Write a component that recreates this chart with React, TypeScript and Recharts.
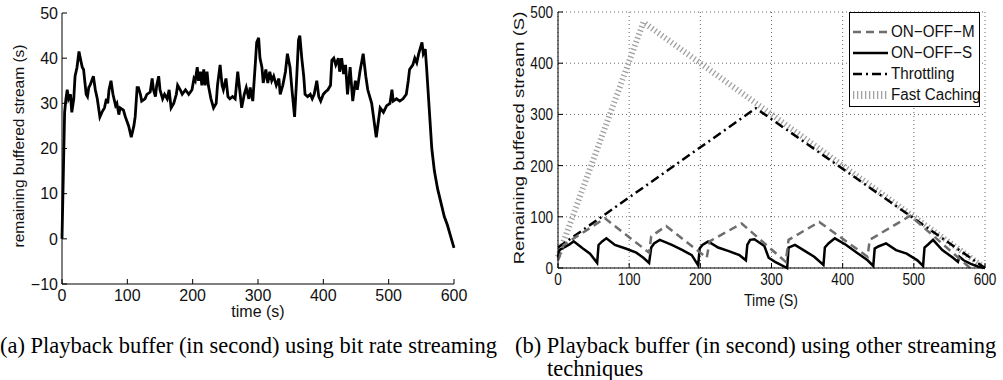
import React from 'react';
import { LineChart, Line, XAxis, YAxis, CartesianGrid, Legend } from 'recharts';

// (a) playback buffer with bit rate streaming
const bitrateTime = [
  0, 4, 6, 8, 10, 13, 15, 18, 20, 23, 26, 28, 31, 33, 37, 39, 41, 43, 48, 51, 54, 58, 61, 65, 68, 70, 72, 75, 78, 82,
  84, 87, 89, 94, 97, 102, 106, 110, 112, 115, 117, 120, 122, 127, 130, 135, 138, 140, 143, 145, 148, 150, 154, 157,
  161, 164, 167, 171, 175, 177, 181, 184, 189, 194, 199, 202, 204, 207, 209, 212, 214, 217, 219, 222, 224, 228, 232,
  236, 238, 242, 245, 247, 251, 254, 257, 261, 265, 269, 272, 275, 279, 282, 286, 288, 292, 296, 298, 301, 303, 306,
  308, 312, 315, 318, 321, 324, 328, 332, 334, 338, 342, 345, 349, 352, 356, 359, 362, 364, 367, 370, 372, 376, 380,
  383, 386, 390, 393, 396, 400, 403, 407, 411, 413, 416, 419, 423, 425, 428, 431, 434, 437, 441, 445, 449, 452, 456,
  461, 465, 468, 474, 481, 487, 492, 497, 502, 505, 507, 512, 517, 522, 527, 530, 532, 537, 540, 543, 546, 551, 553,
  556, 558, 562, 566, 570, 575, 580, 585, 590, 595, 600,
];
const bitrateBuffer = [
  0, 28, 31, 33, 31, 32, 28, 31, 36, 38, 41.5, 40, 38, 37.5, 32, 31.5, 33.5, 34, 36, 33, 31, 27, 28, 29, 31, 30, 33, 35,
  32, 29.5, 30, 27.5, 29, 28.5, 27, 25, 22.5, 25, 27, 33.5, 33.5, 32, 30.5, 31, 32, 32.5, 35.5, 33, 31.5, 34, 36, 33,
  31, 32, 31, 33, 29, 30, 32, 34, 33, 32, 33, 32, 33, 35.5, 35, 38, 35, 37, 34, 37.5, 34, 37, 34, 31, 29, 30, 34, 38.5,
  34, 33, 35.5, 31.5, 31, 31.5, 31, 37, 33, 29, 32, 33.5, 31, 33.5, 30.5, 39, 43.5, 44.5, 40, 38, 34.5, 37.5, 34.5, 37,
  35, 36, 34, 35.5, 32, 34, 37, 41, 38, 33, 27, 35, 44, 45, 40, 36, 32, 31.5, 32, 31, 32, 35, 31.5, 30.5, 32, 32.5, 33,
  34, 39.5, 40, 38.5, 40, 37, 40, 36.5, 38.5, 32, 38, 30.5, 35, 33, 37, 41, 36, 33, 30, 22.5, 29, 28, 29.5, 30, 33, 30.5,
  31, 30.5, 31, 32, 35, 37.5, 38.5, 40, 39, 41, 43.5, 41, 42, 38, 29, 20, 15, 11, 8, 5, 3, 0.5, -2,
];

// (b) playback buffer with the other streaming techniques
const onOffMTime = [0, 8, 66, 128, 131, 152, 209, 213, 258, 320, 324, 367, 435, 438, 495, 575, 579];
const onOffMBuffer = [15, 45, 97, 30, 62, 82, 20, 52, 87, 12, 55, 90, 22, 55, 102, 5, 0];

const onOffSTime = [
  0, 2, 8, 15, 22, 35, 45, 55, 57, 62, 68, 80, 95, 110, 120, 128, 131, 135, 143, 160, 175, 188, 197, 199, 203, 211, 225,
  240, 255, 264, 266, 270, 276, 290, 296, 305, 322, 324, 333, 345, 360, 373, 375, 380, 389, 405, 420, 435, 443, 445, 450,
  461, 475, 490, 505, 513, 515, 520, 527, 540, 555, 562, 564, 570, 580, 590, 600,
];
const onOffSBuffer = [
  20, 35, 40, 45, 52, 38, 28, 10, 45, 52, 58, 45, 38, 30, 20, 10, 40, 48, 55, 45, 35, 25, 5, 38, 45, 52, 40, 33, 25, 15,
  45, 55, 56, 43, 20, 12, 0, 40, 45, 35, 22, 6, 40, 48, 58, 45, 30, 15, 4, 38, 42, 48, 35, 28, 15, 4, 40, 46, 55, 35, 20,
  12, 22, 15, 8, 3, 0,
];

const throttlingTime = [0, 278, 600];
const throttlingBuffer = [40, 312, 0];

const fastCachingTime = [0, 120, 600];
const fastCachingBuffer = [22, 480, 0];

const timeTicks = [0, 100, 200, 300, 400, 500, 600];
const bufferTicksA = [-10, 0, 10, 20, 30, 40, 50];
const bufferTicksB = [0, 100, 200, 300, 400, 500];

const zip = (t: number[], v: number[]) => t.map((x, i) => ({ t: x, v: v[i] }));

const sans = '"Liberation Sans", Arial, Helvetica, sans-serif';
const serif = '"Liberation Serif", "Times New Roman", serif';
const ink = '#111';

const seriesB = [
  { name: 'ON\u2212OFF\u2212M', data: zip(onOffMTime, onOffMBuffer), stroke: '#6e6e6e', width: 2.5, dash: '8 5' },
  { name: 'ON\u2212OFF\u2212S', data: zip(onOffSTime, onOffSBuffer), stroke: '#000', width: 2.5, dash: undefined },
  { name: 'Throttling', data: zip(throttlingTime, throttlingBuffer), stroke: '#000', width: 2.5, dash: '9 4 2 4' },
  { name: 'Fast Caching', data: zip(fastCachingTime, fastCachingBuffer), stroke: '#a0a0a0', width: 6, dash: '1.3 2.7' },
];

const minus = (v: number) => String(v).replace('-', '\u2212');
const blank = () => '';

// the right panel is squeezed sideways in the figure, so its text is drawn narrow
const narrowTick = (side: 'bottom' | 'left', size: number, sx: number) => (props: any) => {
  const { x, y, payload } = props;
  return (
    <text
      transform={`translate(${x},${y}) scale(${sx},1)`}
      textAnchor={side === 'bottom' ? 'middle' : 'end'}
      dy={side === 'bottom' ? '0.71em' : '0.355em'}
      fontSize={size}
      fontFamily={sans}
      fill={ink}
    >
      {payload.value}
    </text>
  );
};

const LegendBox = () => (
  <div style={{ border: '1px solid #000', background: '#fff', padding: '8px 3px 1px 3px', fontFamily: sans, fontSize: 16, color: ink }}>
    {seriesB.map((s) => (
      <div key={s.name} style={{ display: 'flex', alignItems: 'center', height: 21 }}>
        <svg width={35} height={12} style={{ flex: 'none' }}>
          <line x1={0} y1={6} x2={35} y2={6} stroke={s.stroke} strokeWidth={s.name === 'Fast Caching' ? 8 : s.width} strokeDasharray={s.dash} />
        </svg>
        <span style={{ marginLeft: 3, whiteSpace: 'nowrap', display: 'inline-block', transform: 'scaleX(0.95)', transformOrigin: 'left center' }}>{s.name}</span>
      </div>
    ))}
  </div>
);

const Title = ({ x, y, size, squeeze = 1, vertical = false, children }: {
  x: number; y: number; size: number; squeeze?: number; vertical?: boolean; children: React.ReactNode;
}) => (
  <div
    style={{
      position: 'absolute', left: x, top: y, lineHeight: 1,
      transform: vertical
        ? `translate(-50%, -50%) rotate(-90deg) scale(1, ${squeeze})`
        : `translate(-50%, -50%) scale(${squeeze}, 1)`,
      whiteSpace: 'nowrap', fontFamily: sans, fontSize: size, color: ink,
    }}
  >
    {children}
  </div>
);

const captionStyle: React.CSSProperties = {
  position: 'absolute', fontFamily: serif, fontSize: 22.5, lineHeight: '22px', color: '#000', whiteSpace: 'nowrap',
};

export default function App() {
  const bitrateData = zip(bitrateTime, bitrateBuffer);
  const tickA = { fontSize: 16, fill: ink, fontFamily: sans };

  return (
    <div style={{ position: 'absolute', left: 0, top: 0, width: 1003, height: 380, background: '#fff', overflow: 'hidden' }}>
      {/* (a) bit rate streaming */}
      <div style={{ position: 'absolute', left: 0, top: 0 }}>
        <LineChart width={470} height={330} data={bitrateData} margin={{ top: 13, right: 16, bottom: 16, left: 22 }}>
          <XAxis dataKey="t" type="number" domain={[0, 600]} ticks={timeTicks} stroke="#000" tick={tickA}
            tickSize={-5} tickMargin={11} height={30} />
          <XAxis xAxisId="top" orientation="top" type="number" domain={[0, 600]} ticks={timeTicks} stroke="#000"
            tickSize={-5} tickFormatter={blank} height={0} />
          <YAxis type="number" domain={[-10, 50]} ticks={bufferTicksA} stroke="#000" tick={tickA}
            tickSize={-5} tickMargin={9} width={40} tickFormatter={minus} />
          <YAxis yAxisId="right" orientation="right" type="number" domain={[-10, 50]} ticks={bufferTicksA} stroke="#000"
            tickSize={-5} tickFormatter={blank} width={0} />
          <Line type="linear" dataKey="v" stroke="#000" strokeWidth={2.8} dot={false} isAnimationActive={false} />
        </LineChart>
      </div>
      <Title x={258} y={312} size={16}>time (s)</Title>
      <Title x={19} y={146} size={15.5} squeeze={0.9} vertical>remaining buffered stream (s)</Title>

      {/* (b) other streaming techniques */}
      <div style={{ position: 'absolute', left: 500, top: 0 }}>
        <LineChart width={503} height={320} margin={{ top: 12, right: 18, bottom: 22, left: 14 }}>
          <CartesianGrid stroke="#666" strokeDasharray="1 3" />
          <XAxis dataKey="t" type="number" domain={[0, 600]} ticks={timeTicks} stroke="#000"
            tick={narrowTick('bottom', 17, 0.8)} tickSize={-5} tickMargin={10} height={30} />
          <XAxis xAxisId="top" orientation="top" type="number" domain={[0, 600]} ticks={timeTicks} stroke="#000"
            tickSize={-5} tickFormatter={blank} height={0} />
          <YAxis type="number" domain={[0, 500]} ticks={bufferTicksB} stroke="#000"
            tick={narrowTick('left', 17, 0.8)} tickSize={-5} tickMargin={10} width={44} />
          <YAxis yAxisId="right" orientation="right" type="number" domain={[0, 500]} ticks={bufferTicksB} stroke="#000"
            tickSize={-5} tickFormatter={blank} width={0} />
          {[...seriesB].reverse().map((s) => (
            <Line key={s.name} data={s.data} type="linear" dataKey="v" name={s.name} stroke={s.stroke}
              strokeWidth={s.width} strokeDasharray={s.dash} dot={false} isAnimationActive={false} />
          ))}
          <Legend layout="vertical" align="center" verticalAlign="middle" content={() => <LegendBox />}
            wrapperStyle={{ left: 349, top: 12, width: 131 }} />
        </LineChart>
      </div>
      <Title x={771} y={300} size={17} squeeze={0.84}>Time (S)</Title>
      <Title x={520} y={138} size={18.5} squeeze={0.78} vertical>Remaining buffered stream (S)</Title>

      {/* captions */}
      <div style={{ ...captionStyle, left: 0, top: 335 }}>(a) Playback buffer (in second) using bit rate streaming</div>
      <div style={{ ...captionStyle, left: 515, top: 335 }}>(b) Playback buffer (in second) using other streaming</div>
      <div style={{ ...captionStyle, left: 547, top: 358 }}>techniques</div>
    </div>
  );
}
